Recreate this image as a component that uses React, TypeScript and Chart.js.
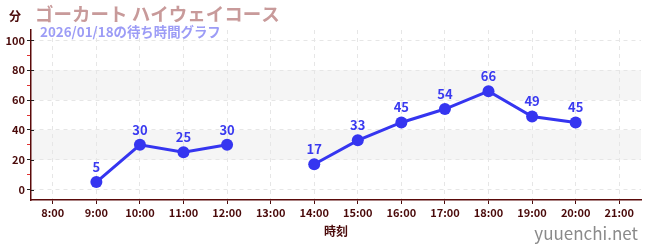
import React, { useEffect, useRef } from "react";
import { Chart, registerables } from "chart.js";
Chart.register(...registerables);

const categories = ["8:00","9:00","10:00","11:00","12:00","13:00","14:00","15:00","16:00","17:00","18:00","19:00","20:00","21:00"];
const waits: (number | null)[] = [null, 5, 30, 25, 30, null, 17, 33, 45, 54, 66, 49, 45, null];
const yTicks = [0, 10, 20, 30, 40, 50, 60, 70, 80, 90, 100];
const bands: [number, number][] = [[20, 40], [60, 80]];
const titleText = "ゴーカート ハイウェイコース";
const subtitleText = "2026/01/18の待ち時間グラフ";
const yUnit = "分";
const xTitle = "時刻";
const watermark = "yuuenchi.net";

const FONT = "'Noto Sans CJK JP', 'Noto Sans', sans-serif";
const DARK = "#4a0a0a";

export default function App() {
  const ref = useRef<HTMLCanvasElement>(null);
  useEffect(() => {
    document.body.style.margin = "0";
    const decor = {
      id: "decor",
      beforeDraw(chart: any) {
        const { ctx, chartArea, scales } = chart;
        const y = scales.y;
        ctx.save();
        ctx.fillStyle = "#f5f5f5";
        for (const [a, b] of bands) {
          const y1 = y.getPixelForValue(b);
          const y2 = y.getPixelForValue(a);
          ctx.fillRect(chartArea.left, y1, chartArea.right - chartArea.left, y2 - y1);
        }
        ctx.restore();
      },
      afterDraw(chart: any) {
        const { ctx, scales, chartArea } = chart;
        ctx.save();
        // major y ticks crossing the axis
        ctx.strokeStyle = "#222";
        ctx.lineWidth = 1;
        for (const v of yTicks) {
          if (v % 20 !== 0) continue;
          const py = Math.round(scales.y.getPixelForValue(v)) + 0.5;
          ctx.beginPath();
          ctx.moveTo(chartArea.left, py);
          ctx.lineTo(chartArea.left + 3, py);
          ctx.stroke();
        }
        ctx.textBaseline = "alphabetic";
        ctx.textAlign = "left";
        ctx.fillStyle = DARK;
        ctx.font = `bold 12px ${FONT}`;
        ctx.fillText(yUnit, 9, 21);
        ctx.fillStyle = "#c89a9a";
        ctx.font = `bold 18.5px ${FONT}`;
        ctx.fillText(titleText, 35, 21);
        ctx.fillStyle = "#9c9cf6";
        ctx.font = `bold 13.4px ${FONT}`;
        ctx.fillText(subtitleText, 40, 37);
        ctx.textAlign = "center";
        ctx.fillStyle = DARK;
        ctx.font = `bold 12px ${FONT}`;
        ctx.fillText(xTitle, (chartArea.left + chartArea.right) / 2, 236);
        ctx.textAlign = "right";
        ctx.fillStyle = "#8a8a8a";
        ctx.font = `17px ${FONT}`;
        ctx.fillText(watermark, 638, 240);
        // data labels
        const meta = chart.getDatasetMeta(0);
        ctx.textAlign = "center";
        ctx.fillStyle = "#3a3af0";
        ctx.font = `bold 13px ${FONT}`;
        meta.data.forEach((pt: any, i: number) => {
          const v = waits[i];
          if (v === null || v === undefined) return;
          ctx.fillText(String(v), pt.x, pt.y - 10);
        });
        ctx.restore();
      },
    };
    const chart = new Chart(ref.current!, {
      type: "line",
      data: {
        labels: categories,
        datasets: [
          {
            data: waits,
            borderColor: "#3535f0",
            backgroundColor: "#3535f0",
            borderWidth: 3,
            pointRadius: 6,
            pointBackgroundColor: "#3535f0",
            pointBorderWidth: 0,
            spanGaps: false,
            tension: 0,
          },
        ],
      },
      options: {
        responsive: false,
        animation: false,
        layout: { padding: { top: 30, right: 9, left: 0, bottom: 0 } },
        plugins: { legend: { display: false }, tooltip: { enabled: false } },
        scales: {
          x: {
            offset: true,
            grid: {
              offset: false,
              color: "#e6e6e6",
              tickColor: DARK,
              tickLength: 4,
              drawTicks: true,
            },
            border: { color: "#5a0a0a", width: 1.5, dash: [4, 4] },
            ticks: { color: DARK, font: { family: FONT, size: 11, weight: "bold" }, padding: 2, maxRotation: 0, autoSkip: false },
            afterFit(scale: any) { scale.height = 50; },
          },
          y: {
            min: -7,
            max: 107,
            afterBuildTicks(scale: any) { scale.ticks = yTicks.map((v) => ({ value: v })); },
            grid: {
              color: (c: any) => (c.tick && c.tick.value % 20 === 0 ? "#e6e6e6" : "rgba(0,0,0,0)"),
              tickColor: (c: any) => (c.tick && c.tick.value % 20 === 0 ? "#222" : "#e03030"),
              tickLength: 4,
            },
            border: { color: "#5a0a0a", width: 1.5, dash: [4, 4] },
            ticks: {
              color: DARK,
              font: { family: FONT, size: 11, weight: "bold" },
              padding: 2,
              callback: (v: any) => (Number(v) % 20 === 0 ? String(v) : ""),
            },
            afterFit(scale: any) { scale.width = 31; },
          },
        },
      },
      plugins: [decor],
    } as any);
    return () => chart.destroy();
  }, []);
  return (
    <div style={{ position: "absolute", left: 0, top: 0, width: 650, height: 250 }}>
      <canvas ref={ref} width={650} height={250} />
    </div>
  );
}
